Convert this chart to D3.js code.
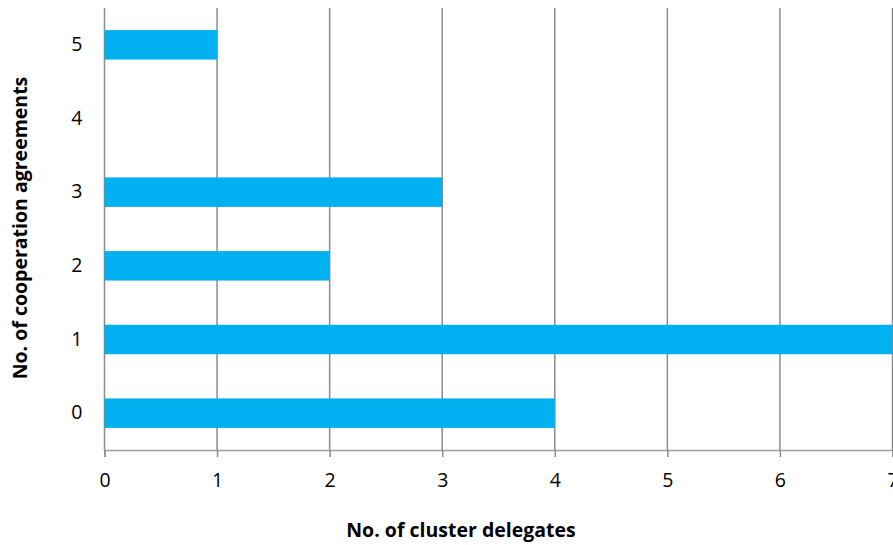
<!DOCTYPE html>
<html><head><meta charset="utf-8">
<script src="https://cdn.jsdelivr.net/npm/d3@7"></script>
<style>body{margin:0;background:#fff}svg{display:block}</style>
</head><body><svg id="c" width="893" height="545"></svg>
<script>
const categories = ["0","1","2","3","4","5"];
const values = [4, 7, 2, 3, 0, 1];
const xTicks = [0,1,2,3,4,5,6,7];
const xTitle = "No. of cluster delegates";
const yTitle = "No. of cooperation agreements";

const svg = d3.select("#c");
const mLeft = 104.5, mRight = 892.5, mTop = 8, mBottom = 450;
const x = d3.scaleLinear().domain([0,7]).range([mLeft,mRight]);
const y = d3.scaleBand().domain(categories.slice().reverse()).range([mTop,mBottom]).paddingInner(0.6).paddingOuter(0.3);
const font = "'Open Sans', Calibri, sans-serif";

// gridlines
svg.append("g").selectAll("line").data(xTicks).join("line")
  .attr("x1", d=>x(d)).attr("x2", d=>x(d)).attr("y1", mTop).attr("y2", mBottom)
  .attr("stroke", "#8c8c8c").attr("stroke-width", 1.5);

// bars
svg.append("g").selectAll("rect").data(categories.map((c,i)=>({c, v: values[i]})).filter(d=>d.v>0)).join("rect")
  .attr("x", x(0)).attr("y", d=>y(d.c)).attr("width", d=>x(d.v)-x(0)).attr("height", y.bandwidth())
  .attr("fill", "#00b0f0");

// x axis
const xa = svg.append("g").attr("transform", `translate(0,${mBottom})`)
  .call(d3.axisBottom(x).tickValues(xTicks).tickSize(7).tickPadding(16).tickFormat(d3.format("d")));
xa.select(".domain").attr("stroke", "#a0a0a0").attr("stroke-width", 1.5);
xa.selectAll(".tick line").attr("stroke", "#8c8c8c").attr("stroke-width", 1.5);
xa.selectAll("text").attr("font-family", font).attr("font-size", 19.5).attr("fill", "#000");

// y axis labels
const ya = svg.append("g").attr("transform", `translate(${mLeft},0)`)
  .call(d3.axisLeft(y).tickSize(0).tickPadding(22));
ya.select(".domain").remove();
ya.selectAll("text").attr("font-family", font).attr("font-size", 19.5).attr("fill", "#000");

// titles
svg.append("text").attr("x", 461).attr("y", 537).attr("text-anchor","middle")
  .attr("font-family", font).attr("font-weight","bold").attr("font-size", 19.5).text(xTitle);
svg.append("text").attr("transform","translate(27,228) rotate(-90)").attr("text-anchor","middle")
  .attr("font-family", font).attr("font-weight","bold").attr("font-size", 19.5).text(yTitle);
</script></body></html>
